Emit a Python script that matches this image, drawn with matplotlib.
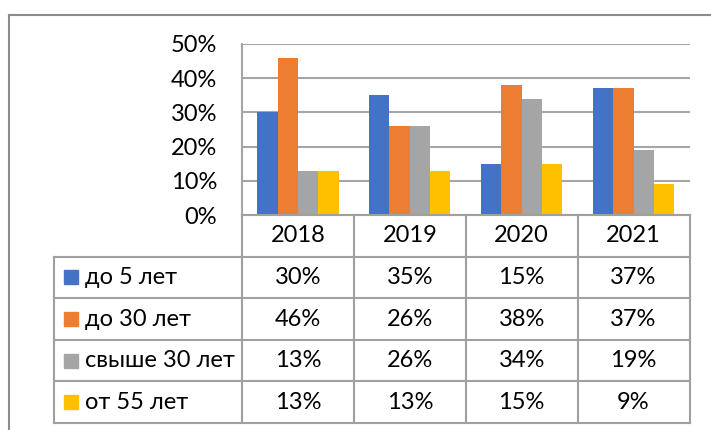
import matplotlib
matplotlib.use("Agg")
import matplotlib.pyplot as plt
from matplotlib.lines import Line2D
from matplotlib.patches import Rectangle

# data
years = ["2018", "2019", "2020", "2021"]
series = ["до 5 лет", "до 30 лет", "свыше 30 лет", "от 55 лет"]
do5 = [30, 35, 15, 37]
do30 = [46, 26, 38, 37]
svyshe30 = [13, 26, 34, 19]
ot55 = [13, 13, 15, 9]
values = [do5, do30, svyshe30, ot55]
colors = ["#4472C4", "#ED7D31", "#A5A5A5", "#FFC000"]
yticks = [0, 10, 20, 30, 40, 50]

plt.rcParams["font.family"] = ["Lato", "DejaVu Sans"]
FS = 17
GRID = "#A6A6A6"
LINE = "#A0A0A0"

W, H = 711, 430
fig = plt.figure(figsize=(W / 100, H / 100), dpi=100)

def box(x0, y0, x1, y1):
    # pixel box (top-left origin) -> figure fraction rect
    return [x0 / W, 1 - y1 / H, (x1 - x0) / W, (y1 - y0) / H]

px_left, px_right, px_top, px_base = 242, 689.5, 44, 215
ax = fig.add_axes(box(px_left, px_top, px_right, px_base))
ax.set_xlim(-0.5, len(years) - 0.5)
ax.set_ylim(0, 50)

n = len(series)
bw = 1 / (n + 1.5)
for i, (vals, c) in enumerate(zip(values, colors)):
    xs = [k + (i - (n - 1) / 2) * bw for k in range(len(years))]
    ax.bar(xs, vals, width=bw, color=c, zorder=3)

ax.set_yticks(yticks)
ax.set_yticklabels([f"{t}%" for t in yticks], fontsize=FS)
ax.tick_params(axis="y", length=0, pad=18)
ax.set_xticks([])
ax.grid(axis="y", color=GRID, linewidth=1.5, zorder=0)
for s in ["top", "right", "bottom"]:
    ax.spines[s].set_visible(False)
ax.spines["left"].set_color(GRID)
ax.spines["left"].set_linewidth(1.5)

# data table below the axis
tab_left, tab_bottom = 54, 423
unit = (px_right - px_left) / len(years)
lab_w = (px_left - tab_left) / unit
tab = fig.add_axes(box(tab_left, px_base, px_right, tab_bottom))
tab.set_xlim(-0.5 - lab_w, len(years) - 0.5)
tab.set_ylim(n + 1, 0)
tab.axis("off")

lk = dict(color=LINE, linewidth=1.5, clip_on=False)
xl = -0.5 - lab_w
xr = len(years) - 0.5
tab.plot([-0.5, xr], [0, 0], **lk)
for r in range(1, n + 2):
    tab.plot([xl, xr], [r, r], **lk)
tab.plot([xl, xl], [1, n + 1], **lk)
for k in range(len(years) + 1):
    tab.plot([k - 0.5, k - 0.5], [0, n + 1], **lk)

for k, y in enumerate(years):
    tab.text(k, 0.5, y, ha="center", va="center", fontsize=FS)
for i, (name, vals, c) in enumerate(zip(series, values, colors)):
    r = i + 1.5
    sq = 14.5 / unit
    tab.add_patch(Rectangle((xl + 10 / unit, r - 0.17), sq, 0.34,
                            color=c, clip_on=False))
    tab.text(xl + 31 / unit, r, name, ha="left", va="center", fontsize=FS)
    for k, v in enumerate(vals):
        tab.text(k, r, f"{v}%", ha="center", va="center", fontsize=FS)

# outer chart frame (cropped at right and bottom)
fr = dict(color="#8C8C8C", linewidth=1.5, transform=None)
fig.add_artist(Line2D([8.5, W + 5], [H - 14.5, H - 14.5], **fr))
fig.add_artist(Line2D([8.5, 8.5], [H - 14.5, -5], **fr))

fig.savefig("out.png", dpi=100)
